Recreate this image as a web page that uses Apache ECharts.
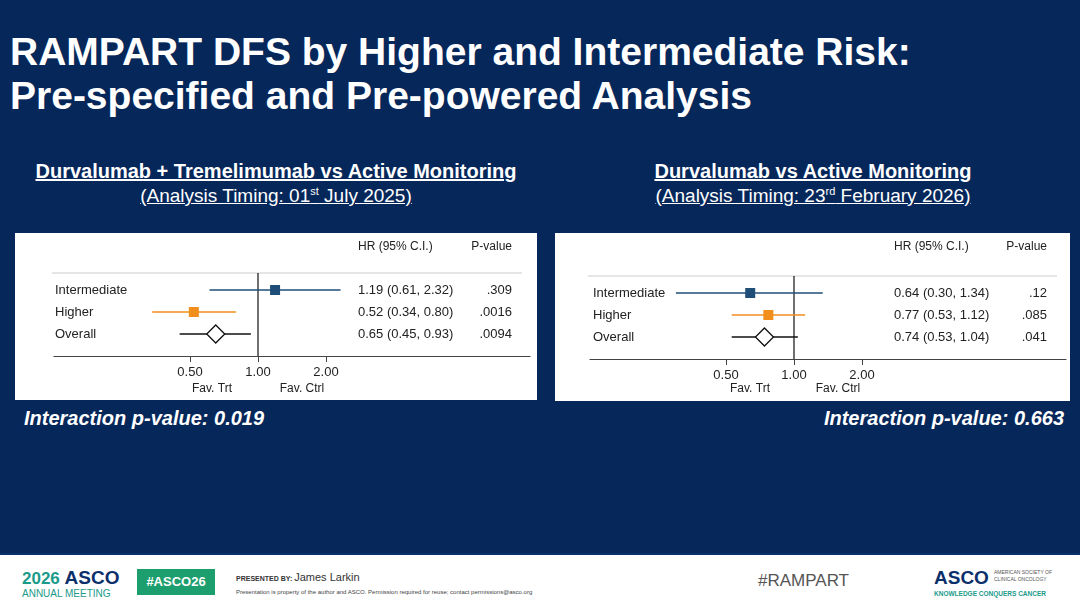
<!DOCTYPE html>
<html>
<head>
<meta charset="utf-8">
<script src="https://cdn.jsdelivr.net/npm/echarts@6/dist/echarts.min.js"></script>
<style>
  body { margin: 0; width: 1080px; height: 608px; overflow: hidden; background: #06275a; font-family: Arial, "Liberation Sans", sans-serif; position: relative; }
  .abs { position: absolute; white-space: nowrap; }
  .title { left: 10px; color: #fff; font-weight: bold; font-size: 39px; line-height: 44px; }
  .sub { color: #fff; text-align: center; text-decoration: underline; }
  .panel { position: absolute; background: #fff; }
  .inter { color: #fff; font-style: italic; font-weight: bold; font-size: 20px; }
  #footer { position: absolute; left: 0; top: 553px; width: 1080px; height: 55px; background: #fff; border-top: 2px solid #0b2f6b; }
</style>
</head>
<body>
  <div class="abs title" style="top:30px">RAMPART DFS by Higher and Intermediate Risk:</div>
  <div class="abs title" style="top:74px">Pre-specified and Pre-powered Analysis</div>

  <div class="abs sub" style="left:0;width:552px;top:160px;font-size:20px;font-weight:bold">Durvalumab + Tremelimumab vs Active Monitoring</div>
  <div class="abs sub" style="left:0;width:552px;top:185px;font-size:19px">(Analysis Timing: 01<sup style="font-size:11px">st</sup> July 2025)</div>
  <div class="abs sub" style="left:540px;width:546px;top:160px;font-size:20px;font-weight:bold">Durvalumab vs Active Monitoring</div>
  <div class="abs sub" style="left:540px;width:546px;top:185px;font-size:19px">(Analysis Timing: 23<sup style="font-size:11px">rd</sup> February 2026)</div>

  <div id="left" class="panel" style="left:15px;top:233px;width:522px;height:167px"></div>
  <div id="right" class="panel" style="left:555px;top:233px;width:515px;height:168px"></div>

  <div class="abs inter" style="left:24px;top:407px">Interaction p-value: 0.019</div>
  <div class="abs inter" style="right:16px;top:407px">Interaction p-value: 0.663</div>

  <div id="footer">
    <div class="abs" style="left:22px;top:12px;font-size:17px;font-weight:bold;color:#1a9a8a">2026 <span style="color:#0b2f6b;font-size:19px">ASCO</span></div>
    <div class="abs" style="left:22px;top:33px;font-size:10px;color:#1a9a8a">ANNUAL MEETING</div>
    <div class="abs" style="left:137px;top:14px;width:78px;height:26px;background:#1d9e6e;color:#fff;font-weight:bold;font-size:13px;line-height:26px;text-align:center">#ASCO26</div>
    <div class="abs" style="left:236px;top:16px;font-size:7px;font-weight:bold;color:#333">PRESENTED BY: <span style="font-size:11px;font-weight:normal">James Larkin</span></div>
    <div class="abs" style="left:236px;top:34px;font-size:6px;color:#444">Presentation is property of the author and ASCO. Permission required for reuse; contact permissions@asco.org</div>
    <div class="abs" style="left:758px;top:16px;font-size:17px;color:#555">#RAMPART</div>
    <div class="abs" style="left:934px;top:12px;font-size:19px;font-weight:bold;color:#0b2f6b">ASCO</div>
    <div class="abs" style="left:994px;top:14px;font-size:5px;color:#555;line-height:7px">AMERICAN SOCIETY OF<br>CLINICAL ONCOLOGY</div>
    <div class="abs" style="left:934px;top:35px;font-size:6.5px;font-weight:bold;color:#1a9a8a">KNOWLEDGE CONQUERS CANCER</div>
  </div>

<script>
// rows (top to bottom)
const rowLabels = ["Intermediate", "Higher", "Overall"];
const rowColors = ["#1f4e79", "#f28e1c", "#111111"];
const rowSymbols = ["rect", "rect", "diamond"];
const tickValues = [0.5, 1, 2];

// Durvalumab + Tremelimumab vs Active Monitoring
const leftHR = [1.19, 0.52, 0.65];
const leftLo = [0.61, 0.34, 0.45];
const leftHi = [2.32, 0.80, 0.93];
const leftHRText = ["1.19 (0.61, 2.32)", "0.52 (0.34, 0.80)", "0.65 (0.45, 0.93)"];
const leftP = [".309", ".0016", ".0094"];

// Durvalumab vs Active Monitoring
const rightHR = [0.64, 0.77, 0.74];
const rightLo = [0.30, 0.53, 0.53];
const rightHi = [1.34, 1.12, 1.04];
const rightHRText = ["0.64 (0.30, 1.34)", "0.77 (0.53, 1.12)", "0.74 (0.53, 1.04)"];
const rightP = [".12", ".085", ".041"];

function forest(el, hr, lo, hi, hrText, pv, lay) {
  const chart = echarts.init(el);
  const font = "Arial";
  const data = hr.map((v, i) => [v, i + 1, lo[i], hi[i], i]);
  chart.setOption({
    animation: false,
    grid: { left: lay.left, right: lay.right, top: lay.top, height: 88 },
    xAxis: {
      type: "log", logBase: 2, min: 0.125, max: 16, position: "bottom",
      axisLine: { onZero: false, lineStyle: { color: "#444", width: 1.2 } },
      axisTick: { length: 6, customValues: tickValues, lineStyle: { color: "#444" } },
      axisLabel: { customValues: tickValues, formatter: v => v.toFixed(2), color: "#222", fontSize: 13, fontFamily: font, margin: 10 },
      splitLine: { show: false }
    },
    yAxis: { type: "value", inverse: true, min: 0, max: 4, show: false },
    series: [{
      type: "custom",
      data: data,
      renderItem: (params, api) => {
        const i = api.value(4);
        const p = api.coord([api.value(0), api.value(1)]);
        const a = api.coord([api.value(2), api.value(1)]);
        const b = api.coord([api.value(3), api.value(1)]);
        const c = rowColors[i];
        const kids = [{ type: "line", shape: { x1: a[0], y1: a[1], x2: b[0], y2: b[1] }, style: { stroke: c, lineWidth: 1.3 } }];
        if (rowSymbols[i] === "rect") {
          kids.push({ type: "rect", shape: { x: p[0] - 5, y: p[1] - 5, width: 10, height: 10 }, style: { fill: c } });
        } else {
          kids.push({ type: "polygon", shape: { points: [[p[0], p[1] - 9], [p[0] + 9, p[1]], [p[0], p[1] + 9], [p[0] - 9, p[1]]] }, style: { fill: "#fff", stroke: c, lineWidth: 1.3 } });
        }
        return { type: "group", children: kids };
      }
    }]
  });
  const x1 = chart.convertToPixel({ gridIndex: 0 }, [1, 0])[0];
  const yTop = lay.lineTop, yBot = chart.convertToPixel({ gridIndex: 0 }, [1, 4])[1];
  const g = [
    { type: "line", shape: { x1: lay.lineL, y1: yTop, x2: lay.lineR, y2: yTop }, style: { stroke: "#ccc", lineWidth: 1 } },
    { type: "line", shape: { x1: x1, y1: yTop, x2: x1, y2: yBot }, style: { stroke: "#222", lineWidth: 1.3 } },
    { type: "text", left: lay.hrX, top: 8, style: { text: "HR (95% C.I.)", fontSize: 12, fontFamily: font, fill: "#222" } },
    { type: "text", right: el.clientWidth - lay.pX, top: 8, style: { text: "P-value", fontSize: 12, fontFamily: font, fill: "#222", align: "right" } },
    { type: "text", x: lay.trtX, y: 156, style: { text: "Fav. Trt", fontSize: 12, fontFamily: font, fill: "#222", align: "center", verticalAlign: "middle" } },
    { type: "text", x: lay.ctrlX, y: 156, style: { text: "Fav. Ctrl", fontSize: 12, fontFamily: font, fill: "#222", align: "center", verticalAlign: "middle" } }
  ];
  rowLabels.forEach((lab, i) => {
    const y = chart.convertToPixel({ gridIndex: 0 }, [1, i + 1])[1];
    const st = { fontSize: 13, fontFamily: font, fill: "#222", verticalAlign: "middle" };
    g.push({ type: "text", x: lay.labX, y: y, style: Object.assign({ text: lab }, st) });
    g.push({ type: "text", x: lay.hrX, y: y, style: Object.assign({ text: hrText[i] }, st) });
    g.push({ type: "text", x: lay.pX, y: y, style: Object.assign({ text: pv[i], align: "right" }, st) });
  });
  chart.setOption({ graphic: g });
}

forest(document.getElementById("left"), leftHR, leftLo, leftHi, leftHRText, leftP,
  { left: 39, right: 7, top: 35, lineTop: 40, lineL: 37, lineR: 507, labX: 40, hrX: 343, pX: 497, trtX: 197, ctrlX: 287 });
forest(document.getElementById("right"), rightHR, rightLo, rightHi, rightHRText, rightP,
  { left: 35, right: 4, top: 38, lineTop: 43, lineL: 33, lineR: 502, labX: 38, hrX: 339, pX: 492, trtX: 195, ctrlX: 283 });
</script>
</body>
</html>
